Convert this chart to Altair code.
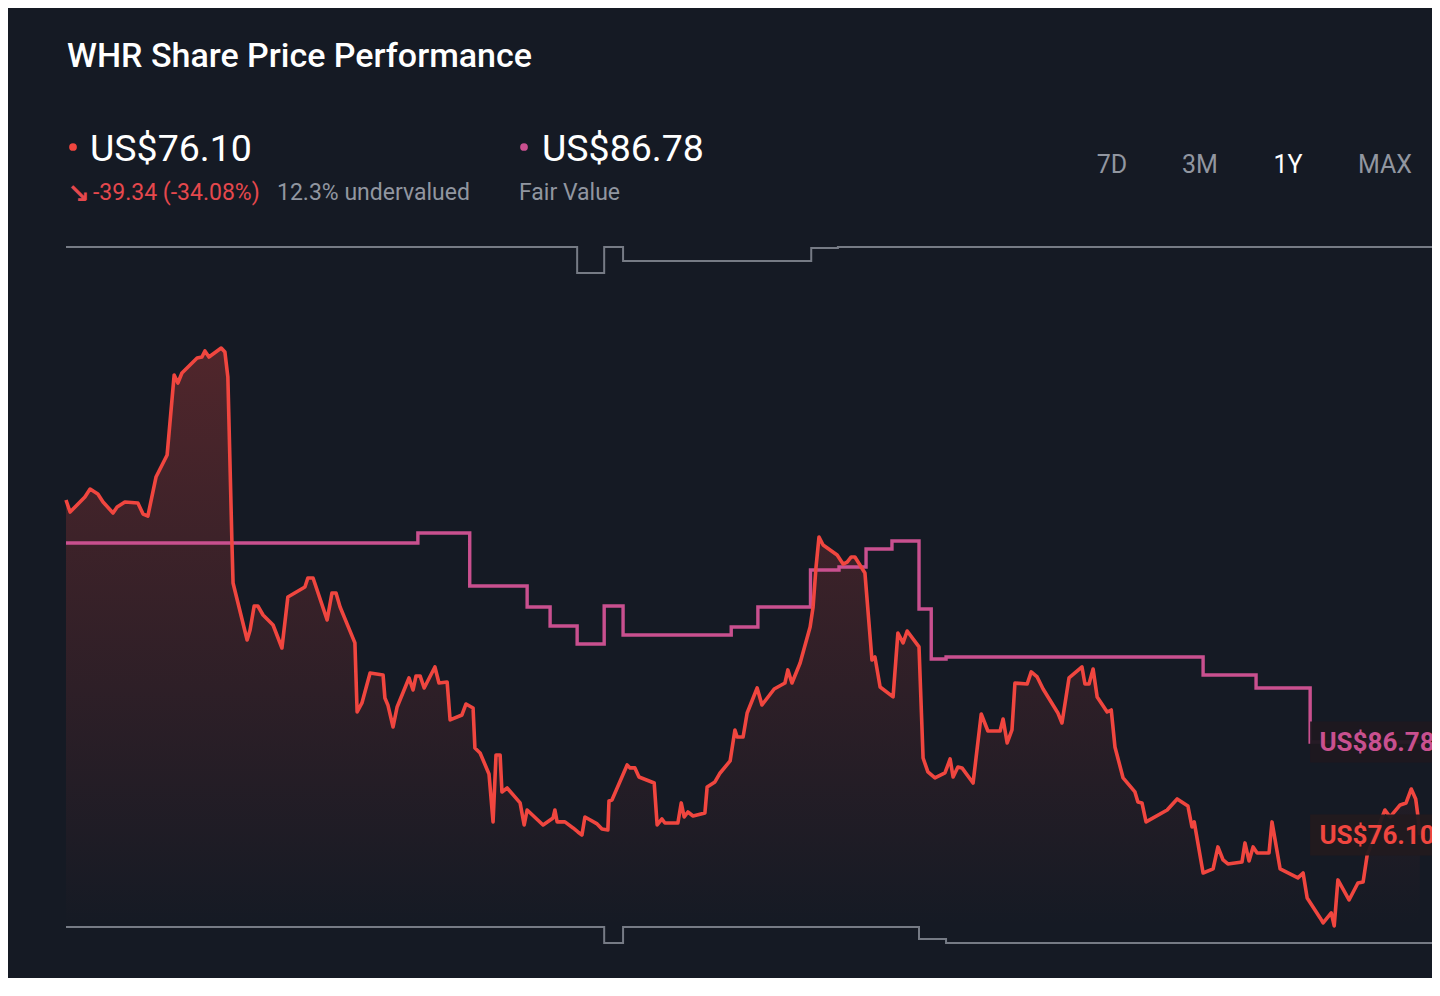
import altair as alt
import pandas as pd

# ---------------- data ----------------
days = [0, 1.1, 5.1, 6.5, 8.6, 10.0, 12.7, 13.8, 15.9, 19.4, 20.8, 22.1, 24.3, 27.3, 29.2, 30.2,
        31.3, 35.4, 36.7, 37.5, 38.6, 41.9, 42.9, 43.7, 44.8, 45.1, 48.9, 49.7, 50.8, 51.8, 53.2,
        55.9, 58.3, 59.9, 64.5, 65.3, 66.7, 70.5, 71.8, 72.9, 74.0, 78.0, 78.6, 79.9, 82.1, 85.6,
        86.1, 86.9, 88.3, 89.4, 92.6, 93.7, 94.5, 95.6, 96.7, 99.6, 100.7, 102.9, 103.7, 106.9,
        108.0, 109.9, 110.4, 111.8, 114.2, 115.3, 116.1, 117.2, 117.7, 119.1, 121.2, 122.6, 123.7,
        124.5, 128.8, 131.5, 132.0, 132.6, 134.7, 136.9, 138.2, 139.3, 140.1, 143.4, 144.7, 146.3,
        146.6, 147.4, 151.5, 152.3, 153.6, 154.7, 158.8, 159.6, 160.9, 161.7, 165.2, 166.1, 166.9,
        167.9, 169.3, 172.5, 173.1, 175.2, 176.6, 179.3, 180.6, 181.2, 182.8, 183.9, 186.6, 187.9,
        191.2, 194.1, 194.9, 196.0, 198.2, 200.9, 201.7, 202.5, 203.3, 204.4, 208.2, 209.8, 210.9,
        212.0, 213.0, 215.7, 217.6, 218.4, 219.8, 223.3, 224.6, 226.0, 227.1, 230.3, 231.4, 232.7,
        234.6, 237.3, 238.7, 239.5, 240.8, 241.9, 244.9, 247.1, 248.9, 252.2, 253.0, 254.1, 255.4,
        256.2, 259.5, 260.6, 262.2, 263.8, 267.8, 268.9, 270.8, 274.3, 275.1, 276.2, 277.3, 278.4,
        281.1, 282.2, 283.2, 285.4, 288.6, 289.4, 290.5, 291.6, 297.3, 300.0, 302.9, 304.0, 304.6,
        307.0, 309.7, 311.0, 312.4, 313.7, 317.5, 318.3, 319.4, 320.5, 321.6, 324.8, 325.6, 327.8,
        332.6, 334.0, 335.1, 338.6, 339.4, 341.6, 342.4, 343.4, 346.4, 348.8, 350.2, 351.3, 356.1,
        357.5, 360.2, 361.8, 363.2, 364.4, 364.9, 365.5]
prices = [114.56, 113.18, 114.91, 115.82, 115.25, 114.33, 113.07, 113.76, 114.33, 114.22, 112.95,
          112.72, 117.20, 119.73, 128.91, 127.99, 129.14, 130.86, 130.98, 131.67, 130.98, 132.01,
          131.55, 128.68, 109.63, 105.03, 98.49, 99.64, 102.39, 102.39, 101.36, 100.21, 97.57,
          103.43, 104.57, 105.61, 105.61, 100.79, 103.89, 103.89, 102.28, 98.15, 90.22, 91.26,
          94.70, 94.47, 91.83, 91.03, 88.50, 90.80, 94.13, 92.75, 94.36, 94.36, 92.98, 95.39,
          93.55, 93.67, 89.31, 89.88, 91.14, 90.68, 86.09, 85.52, 83.11, 77.60, 85.29, 85.29,
          81.04, 81.50, 80.47, 79.78, 77.25, 78.97, 77.25, 78.06, 78.97, 77.60, 77.60, 76.91,
          76.45, 76.10, 78.17, 77.37, 76.79, 76.68, 80.01, 80.12, 84.14, 83.80, 83.80, 82.76,
          82.07, 77.25, 77.94, 77.48, 77.48, 79.78, 78.17, 78.74, 78.28, 78.63, 81.61, 82.19,
          83.22, 84.60, 88.16, 87.35, 87.35, 90.11, 92.98, 91.03, 92.86, 93.55, 95.05, 93.55,
          95.85, 99.98, 102.28, 106.87, 110.31, 109.40, 108.25, 107.21, 107.44, 108.02, 108.02,
          106.18, 96.19, 96.54, 93.09, 91.95, 99.29, 98.15, 99.52, 97.69, 84.94, 83.34, 82.65,
          83.22, 84.83, 82.76, 83.91, 83.80, 82.07, 89.99, 88.04, 88.04, 89.42, 86.67, 88.16,
          93.55, 93.44, 94.82, 94.24, 92.86, 90.11, 88.96, 94.13, 95.39, 93.44, 93.44, 95.16,
          91.95, 90.22, 90.45, 86.21, 82.65, 81.04, 79.89, 79.78, 77.60, 78.97, 80.24, 79.43,
          77.02, 77.60, 71.74, 72.20, 74.73, 73.23, 72.77, 73.00, 75.19, 73.12, 74.73, 74.04,
          74.04, 77.60, 72.20, 71.17, 71.74, 68.87, 66.58, 66.00, 67.15, 65.66, 70.94, 68.64,
          70.59, 70.71, 73.81, 78.97, 78.17, 79.55, 79.78, 81.38, 80.24, 78.63, 76.10]

fv_days = [0, 95, 109, 124.5, 130.7, 138, 145.3, 150.4, 179.6, 186.8, 201, 208.7, 216, 223,
           230.3, 233.6, 237.6, 307, 321.3, 335.9, 365.5]
fv_values = [109.63, 110.77, 104.69, 102.28, 100.10, 98.03, 102.39, 99.06, 99.98, 102.28,
             106.53, 106.87, 108.94, 109.85, 102.05, 96.31, 96.54, 94.47, 92.98, 86.78, 86.78]

upper_days = [0, 138.0, 145.3, 150.4, 201.2, 208.4, 372]
upper_values = [143.61, 140.62, 143.61, 142.00, 143.49, 143.61, 143.61]
lower_days = [0, 145.3, 150.4, 230.3, 237.6, 372]
lower_values = [65.54, 63.71, 65.54, 64.16, 63.71, 63.71]

last_price = 76.10
fair_value = 86.78
title_text = "WHR Share Price Performance"
price_text = "US$76.10"
fv_text = "US$86.78"
change_text = "-39.34 (-34.08%)"
valuation_text = "12.3% undervalued"
fv_caption = "Fair Value"
ranges = ["7D", "3M", "1Y", "MAX"]
active_range = "1Y"

# ---------------- style ----------------
BG = "#151a24"
RED = "#f0463f"
RED_TEXT = "#e5484d"
PINK = "#c9508f"
GREY_LINE = "#767b85"
GREY_TEXT = "#9196a0"

xs = alt.Scale(domain=[-15.66, 368.8], nice=False, zero=False)
ys = alt.Scale(domain=[59.68, 171.05], nice=False, zero=False)

price_df = pd.DataFrame({"day": days, "price": prices})
fv_df = pd.DataFrame({"day": fv_days, "price": fv_values})
up_df = pd.DataFrame({"day": upper_days, "price": upper_values})
lo_df = pd.DataFrame({"day": lower_days, "price": lower_values})

X = alt.X("day:Q", scale=xs, axis=None)
Y = alt.Y("price:Q", scale=ys, axis=None)

upper = alt.Chart(up_df).mark_line(interpolate="step-after", color=GREY_LINE, strokeWidth=2, clip=True).encode(x=X, y=Y)
lower = alt.Chart(lo_df).mark_line(interpolate="step-after", color=GREY_LINE, strokeWidth=2, clip=True).encode(x=X, y=Y)

grad = alt.Gradient(
    gradient="linear",
    stops=[alt.GradientStop(color="rgba(240,70,63,0.27)", offset=0),
           alt.GradientStop(color="rgba(240,70,63,0.11)", offset=0.6),
           alt.GradientStop(color="rgba(240,70,63,0.0)", offset=1)],
    x1=1, x2=1, y1=0, y2=1,
)
area = alt.Chart(price_df).mark_area(color=grad, clip=True).encode(
    x=X, y=Y, y2=alt.datum(lower_values[0]))

fv_line = alt.Chart(fv_df).mark_line(interpolate="step-after", color=PINK, strokeWidth=3.4, clip=True).encode(x=X, y=Y)
price_line = alt.Chart(price_df).mark_line(color=RED, strokeWidth=3.6, strokeJoin="round", clip=True).encode(x=X, y=Y)

tag_df = pd.DataFrame({
    "value": [fair_value, last_price],
    "text": [fv_text, price_text],
    "col": [PINK, RED],
    "box": ["#1d1820", "#221a1f"],
})
tag_df["top"] = tag_df["value"] + 2.35
tag_df["bot"] = tag_df["value"] - 2.35
tag_df["x0"] = 335.9
tag_df["x1"] = 372
tag_df["xt"] = 338.4

boxes = alt.Chart(tag_df).mark_rect(clip=True, opacity=0.95).encode(
    x=alt.X("x0:Q", scale=xs, axis=None), x2="x1:Q",
    y=alt.Y("top:Q", scale=ys, axis=None), y2="bot:Q",
    color=alt.Color("box:N", scale=None))
tags = alt.Chart(tag_df).mark_text(align="left", baseline="middle", font="Roboto", fontSize=26,
                                   fontWeight="bold", clip=True, dy=1).encode(
    x=alt.X("xt:Q", scale=xs, axis=None), y=alt.Y("value:Q", scale=ys, axis=None),
    text="text:N", color=alt.Color("col:N", scale=None))


def label(text, x, y, size, color, weight="normal", align="left", font="Roboto"):
    return alt.Chart(pd.DataFrame({"t": [text]})).mark_text(
        align=align, baseline="alphabetic", fontSize=size, font=font,
        fontWeight=weight, color=color).encode(
        x=alt.value(x - 8), y=alt.value(y - 8), text="t:N")


def dot(x, y, color):
    return alt.Chart(pd.DataFrame({"t": [0]})).mark_circle(size=60, color=color, opacity=1).encode(
        x=alt.value(x - 8), y=alt.value(y - 8))


header = [
    label(title_text, 67, 67, 34, "#ffffff", weight=500),
    dot(73, 147, RED),
    label(price_text, 90, 161, 37.5, "#ffffff"),
    label("↘", 67, 203, 27, RED_TEXT, weight="bold", font="DejaVu Sans"),
    label(change_text, 93, 200, 23, RED_TEXT),
    label(valuation_text, 277, 200, 23, GREY_TEXT),
    dot(524, 147, PINK),
    label(fv_text, 542, 161, 37.5, "#ffffff"),
    label(fv_caption, 519, 200, 23, GREY_TEXT),
]
range_x = [1112, 1200, 1288, 1385]
for r, rx in zip(ranges, range_x):
    header.append(label(r, rx, 173, 25, "#ffffff" if r == active_range else GREY_TEXT, align="center"))

chart = alt.layer(upper, lower, area, fv_line, price_line, boxes, tags, *header).properties(
    width=1424, height=970, background=BG, padding=0,
    autosize=alt.AutoSizeParams(type="none"),
).configure_view(stroke=None)

chart.save("out.html", embed_options={"renderer": "svg", "actions": False})
